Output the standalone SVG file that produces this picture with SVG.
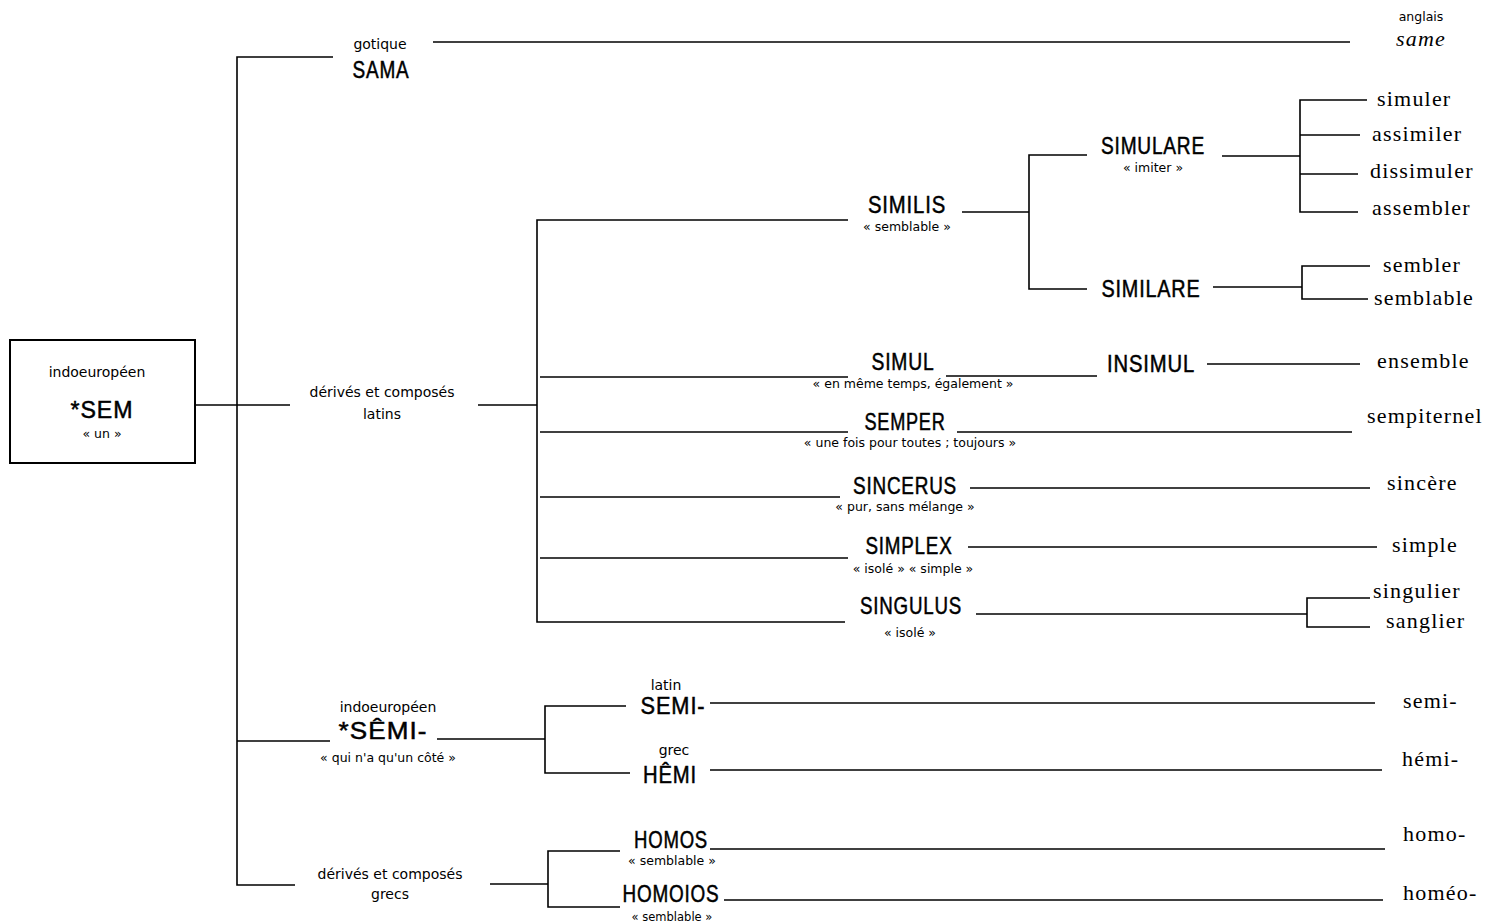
<svg xmlns="http://www.w3.org/2000/svg" width="1499" height="922" viewBox="0 0 1499 922">
<style>
.ln{fill:none;stroke:#000;stroke-width:1.6}
.cap{font-family:"Liberation Sans",Arial,sans-serif;font-size:24px;stroke:#000;stroke-width:0.5;letter-spacing:1px;text-anchor:middle;fill:#000}
.lab{font-family:"DejaVu Sans","Liberation Sans",sans-serif;font-size:14px;text-anchor:middle;fill:#000}
.gl{font-family:"DejaVu Sans","Liberation Sans",sans-serif;font-size:12.5px;text-anchor:middle;fill:#000}
.fr{font-family:"Liberation Serif","DejaVu Serif",serif;font-size:22px;letter-spacing:1.2px;fill:#000}
</style>
<rect width="1499" height="922" fill="#fff"/>
<g id="connectors">
<path class="ln" d="M195,405 H290"/>
<path class="ln" d="M333,57 H237 V885 H295"/>
<path class="ln" d="M237,741 H330"/>
<path class="ln" d="M433,42 H1350"/>
<path class="ln" d="M478,405 H537"/>
<path class="ln" d="M848,220 H537 V622 H845"/>
<path class="ln" d="M540,377 H848"/>
<path class="ln" d="M540,432 H848"/>
<path class="ln" d="M540,497 H840"/>
<path class="ln" d="M540,558 H848"/>
<path class="ln" d="M962,212 H1029"/>
<path class="ln" d="M1087,155 H1029 V289 H1087"/>
<path class="ln" d="M1222,156 H1300"/>
<path class="ln" d="M1367,100 H1300 V212 H1358"/>
<path class="ln" d="M1300,135 H1360"/>
<path class="ln" d="M1300,174 H1358"/>
<path class="ln" d="M1213,287 H1302"/>
<path class="ln" d="M1370,266 H1302 V299 H1368"/>
<path class="ln" d="M946,376 H1097"/>
<path class="ln" d="M1207,364 H1360"/>
<path class="ln" d="M957,432 H1352"/>
<path class="ln" d="M970,488 H1370"/>
<path class="ln" d="M968,547 H1377"/>
<path class="ln" d="M976,614 H1307"/>
<path class="ln" d="M1370,598 H1307 V627 H1370"/>
<path class="ln" d="M437,739 H545"/>
<path class="ln" d="M626,706 H545 V773 H630"/>
<path class="ln" d="M710,703 H1375"/>
<path class="ln" d="M710,770 H1382"/>
<path class="ln" d="M490,884 H548"/>
<path class="ln" d="M620,851 H548 V907 H620"/>
<path class="ln" d="M710,849 H1385"/>
<path class="ln" d="M724,900 H1383"/>
</g>
<g id="sem">
<rect x="10" y="340" width="185" height="123" fill="none" stroke="#000" stroke-width="2"/>
<text class="lab" x="97" y="377">indoeuropéen</text>
<text class="cap" x="102" y="418" textLength="63" lengthAdjust="spacingAndGlyphs">*SEM</text>
<text class="gl" x="102" y="438">« un »</text>
</g>
<g id="sama">
<text class="lab" x="380" y="49">gotique</text>
<text class="cap" x="381" y="78" textLength="57" lengthAdjust="spacingAndGlyphs">SAMA</text>
</g>
<g id="same">
<text class="gl" x="1421" y="21">anglais</text>
<text class="fr" x="1421" y="46" style="font-style:italic;text-anchor:middle">same</text>
</g>
<g id="latins">
<text class="lab" x="382" y="397">dérivés et composés</text>
<text class="lab" x="382" y="419">latins</text>
</g>
<g id="similis">
<text class="cap" x="907" y="213" textLength="78" lengthAdjust="spacingAndGlyphs">SIMILIS</text>
<text class="gl" x="907" y="231">« semblable »</text>
</g>
<g id="simulare">
<text class="cap" x="1153" y="154" textLength="104" lengthAdjust="spacingAndGlyphs">SIMULARE</text>
<text class="gl" x="1153" y="172">« imiter »</text>
</g>
<g id="similare"><text class="cap" x="1151" y="297" textLength="99" lengthAdjust="spacingAndGlyphs">SIMILARE</text></g>
<g id="simuler"><text class="fr" x="1377" y="106">simuler</text></g>
<g id="assimiler"><text class="fr" x="1372" y="141">assimiler</text></g>
<g id="dissimuler"><text class="fr" x="1370" y="178">dissimuler</text></g>
<g id="assembler"><text class="fr" x="1372" y="215">assembler</text></g>
<g id="sembler"><text class="fr" x="1383" y="272">sembler</text></g>
<g id="semblable"><text class="fr" x="1374" y="305">semblable</text></g>
<g id="simul">
<text class="cap" x="903" y="370" textLength="63" lengthAdjust="spacingAndGlyphs">SIMUL</text>
<text class="gl" x="913" y="388">« en même temps, également »</text>
</g>
<g id="insimul"><text class="cap" x="1151" y="372" textLength="88" lengthAdjust="spacingAndGlyphs">INSIMUL</text></g>
<g id="ensemble"><text class="fr" x="1377" y="368">ensemble</text></g>
<g id="semper">
<text class="cap" x="905" y="430" textLength="81" lengthAdjust="spacingAndGlyphs">SEMPER</text>
<text class="gl" x="910" y="447">« une fois pour toutes ; toujours »</text>
</g>
<g id="sempiternel"><text class="fr" x="1367" y="423">sempiternel</text></g>
<g id="sincerus">
<text class="cap" x="905" y="494" textLength="104" lengthAdjust="spacingAndGlyphs">SINCERUS</text>
<text class="gl" x="905" y="511">« pur, sans mélange »</text>
</g>
<g id="sincere"><text class="fr" x="1387" y="490">sincère</text></g>
<g id="simplex">
<text class="cap" x="909" y="554" textLength="87" lengthAdjust="spacingAndGlyphs">SIMPLEX</text>
<text class="gl" x="913" y="573">« isolé » « simple »</text>
</g>
<g id="simple"><text class="fr" x="1392" y="552">simple</text></g>
<g id="singulus">
<text class="cap" x="911" y="614" textLength="102" lengthAdjust="spacingAndGlyphs">SINGULUS</text>
<text class="gl" x="910" y="637">« isolé »</text>
</g>
<g id="singulier"><text class="fr" x="1373" y="598">singulier</text></g>
<g id="sanglier"><text class="fr" x="1386" y="628">sanglier</text></g>
<g id="semi-ie">
<text class="lab" x="388" y="712">indoeuropéen</text>
<text class="cap" x="383" y="739" textLength="89" lengthAdjust="spacingAndGlyphs">*SÊMI-</text>
<text class="gl" x="388" y="762">« qui n'a qu'un côté »</text>
</g>
<g id="semi-lat">
<text class="lab" x="666" y="690">latin</text>
<text class="cap" x="673" y="714" textLength="65" lengthAdjust="spacingAndGlyphs">SEMI-</text>
</g>
<g id="hemi-gr">
<text class="lab" x="674" y="755">grec</text>
<text class="cap" x="670" y="783" textLength="54" lengthAdjust="spacingAndGlyphs">HÊMI</text>
</g>
<g id="semi-fr"><text class="fr" x="1403" y="708">semi-</text></g>
<g id="hemi-fr"><text class="fr" x="1402" y="766">hémi-</text></g>
<g id="grecs">
<text class="lab" x="390" y="879">dérivés et composés</text>
<text class="lab" x="390" y="899">grecs</text>
</g>
<g id="homos">
<text class="cap" x="671" y="848" textLength="74" lengthAdjust="spacingAndGlyphs">HOMOS</text>
<text class="gl" x="672" y="865">« semblable »</text>
</g>
<g id="homoios">
<text class="cap" x="671" y="902" textLength="97" lengthAdjust="spacingAndGlyphs">HOMOIOS</text>
<text class="gl" x="672" y="921" style="font-size:11.5px">« semblable »</text>
</g>
<g id="homo-fr"><text class="fr" x="1403" y="841">homo-</text></g>
<g id="homeo-fr"><text class="fr" x="1403" y="900">homéo-</text></g>
</svg>
